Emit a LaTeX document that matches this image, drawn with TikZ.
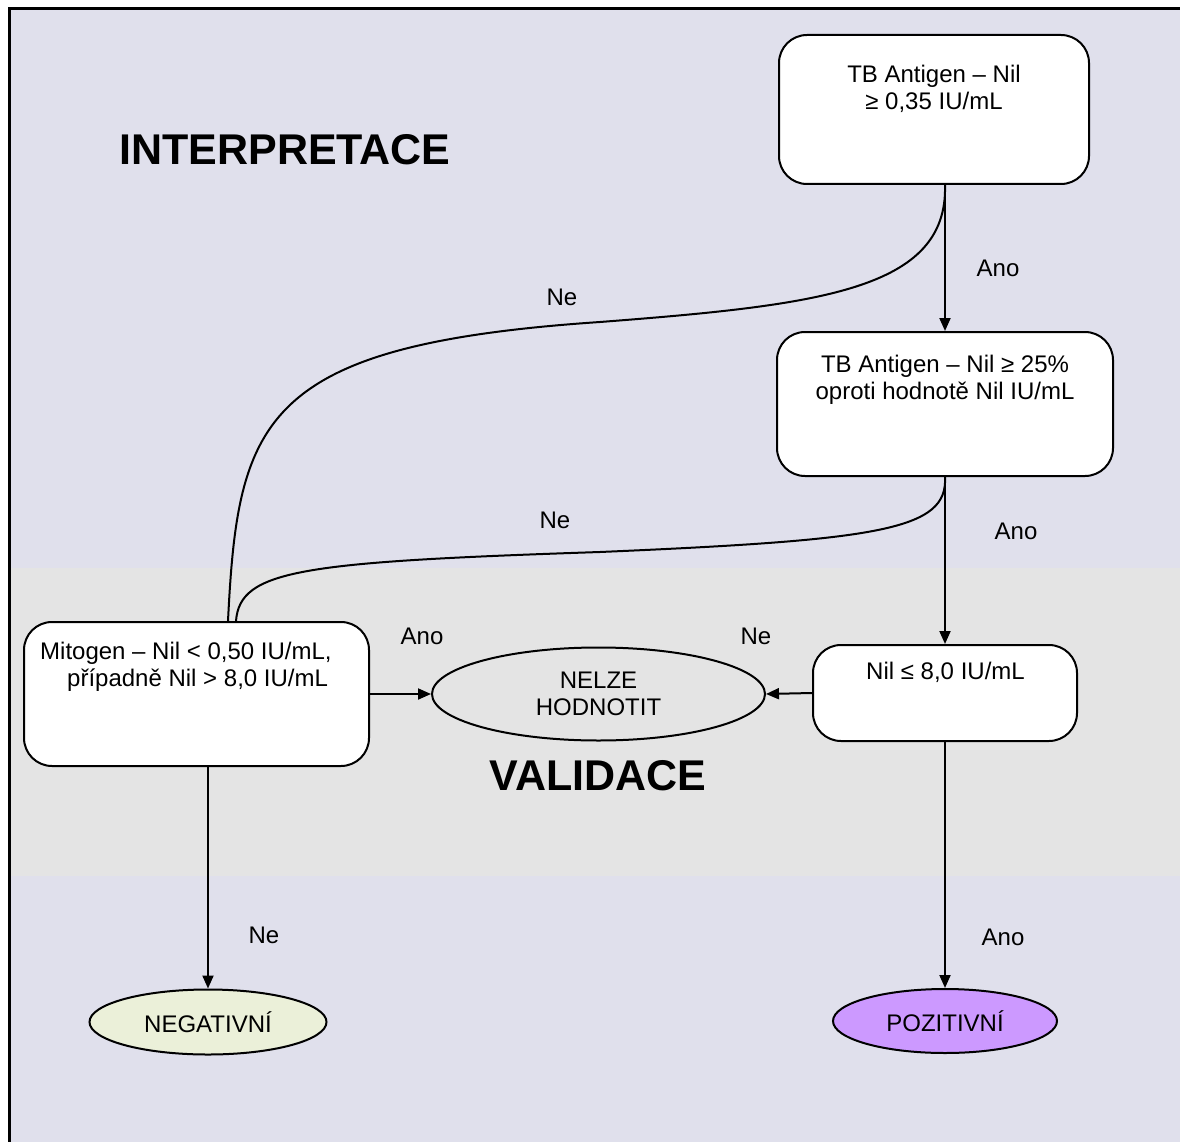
\documentclass[tikz,border=0pt]{standalone}
\usepackage{fontspec}
\setmainfont{Liberation Sans}
\usetikzlibrary{arrows.meta,shapes.geometric}
\definecolor{bglav}{RGB}{224,224,236}
\definecolor{bandgrey}{RGB}{228,228,228}
\definecolor{neggreen}{RGB}{235,240,217}
\definecolor{pospurple}{RGB}{204,153,255}
\tikzset{
  box/.style={draw=black, fill=white, line width=2pt, rounded corners=28pt, inner sep=0pt},
  boxtext/.style={anchor=north, inner sep=0pt, align=center, font=\fontsize{24}{27}\selectfont},
  oval/.style={ellipse, draw=black, line width=2pt, inner sep=0pt, align=center, font=\fontsize{24}{27}\selectfont},
  lbl/.style={inner sep=0pt, font=\fontsize{24}{27}\selectfont},
  title/.style={inner sep=0pt, font=\fontsize{43}{48}\selectfont\bfseries},
  arr/.style={line width=2pt, -{Triangle[length=13pt,width=11pt]}},
  curv/.style={line width=2pt}
}
\begin{document}
\begin{tikzpicture}[x=1pt,y=-1pt]
\useasboundingbox (0,0) rectangle (1180,1142);
\fill[white] (0,0) rectangle (1180,1142);
\fill[bglav] (9,9) rectangle (1180,1142);
\fill[bandgrey] (9,568) rectangle (1180,876);
\draw[line width=3pt] (9,1142) -- (9,9) -- (1180,9);

% titles
\node[title] (tint) at (285,150) {INTERPRETACE};
\node[title] (tval) at (598,776) {VALIDACE};

% boxes
\node[box, minimum width=310pt, minimum height=149pt] (b1) at (934,109.5) {};
\node[boxtext] (t1) at (934,65) {TB Antigen – Nil\\≥ 0,35 IU/mL};

\node[box, minimum width=336pt, minimum height=144pt] (b2) at (945,404) {};
\node[boxtext] (t2) at (945,355) {TB Antigen – Nil ≥ 25\%\\oproti hodnotě Nil IU/mL};

\node[box, minimum width=345pt, minimum height=144pt] (b3) at (196.5,694) {};
\node[boxtext, anchor=north west, align=left] (t3) at (40,642) {Mitogen – Nil < 0,50 IU/mL,\\\hspace*{27pt}případně Nil > 8,0 IU/mL};

\node[box, minimum width=264pt, minimum height=96pt] (b4) at (945,693) {};
\node[boxtext] (t4) at (945.5,662) {Nil ≤ 8,0 IU/mL};

% ellipses
\node[oval, fill=bandgrey, minimum width=333pt, minimum height=93pt] (nelze) at (598.5,694) {NELZE\\HODNOTIT};
\node[oval, fill=neggreen, minimum width=237pt, minimum height=65pt] (neg) at (208,1022) {NEGATIVNÍ};
\node[oval, fill=pospurple, minimum width=224pt, minimum height=64pt] (pos) at (945,1021) {POZITIVNÍ};

% straight arrows
\draw[arr] (b2.north |- b1.south) -- (b2.north);
\draw[arr] (b2.south) -- (b4.north);
\draw[arr] (b4.south) -- (pos.north);
\draw[arr] (neg.north |- b3.south) -- (neg.north);
\draw[arr] (b3.east) -- (nelze.west);
\draw[arr] (b4.west) -- (nelze.east);

% curved connectors
\draw[curv] (b2.north |- b1.south) .. controls (948,290) and (820,305) .. (600,322)
  .. controls (260,345) and (238,420) .. ([xshift=31.5pt]b3.north);
\draw[curv] (b2.south) .. controls (948,530) and (880,540) .. (600,552)
  .. controls (300,562) and (240,570) .. ([xshift=39.5pt]b3.north);

% labels
\node[lbl] (l1) at (998,268) {Ano};
\node[lbl] (l2) at (562,297) {Ne};
\node[lbl] (l3) at (1016,531) {Ano};
\node[lbl] (l4) at (555,520) {Ne};
\node[lbl] (l5) at (422,636) {Ano};
\node[lbl] (l6) at (756,636) {Ne};
\node[lbl] (l7) at (264,935) {Ne};
\node[lbl] (l8) at (1003,937) {Ano};
\end{tikzpicture}
\end{document}
